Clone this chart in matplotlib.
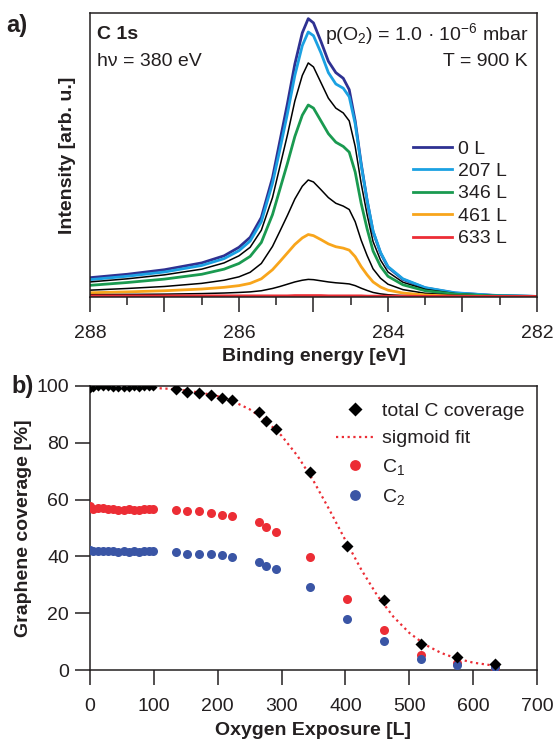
import matplotlib.pyplot as plt
from matplotlib.ticker import MultipleLocator, FuncFormatter

plt.rcParams['font.family'] = ['Liberation Sans', 'DejaVu Sans']
plt.rcParams['mathtext.fontset'] = 'custom'
plt.rcParams['mathtext.rm'] = 'Liberation Sans'
plt.rcParams['mathtext.it'] = 'Liberation Sans:italic'
plt.rcParams['font.size'] = 14
plt.rcParams['text.color'] = '#231f20'
plt.rcParams['axes.labelcolor'] = '#231f20'
plt.rcParams['xtick.color'] = '#231f20'
plt.rcParams['ytick.color'] = '#231f20'

# ---- panel a: C 1s spectra ----
energy = [288.0, 287.5, 287.0, 286.5, 286.2, 286.0, 285.85, 285.7, 285.55, 285.45,
          285.35, 285.25, 285.15, 285.07, 285.0, 284.9, 284.8, 284.7, 284.6, 284.52,
          284.44, 284.36, 284.28, 284.2, 284.1, 284.0, 283.8, 283.5, 283.1, 282.6, 282.0]

spec_0L = [0.068, 0.080, 0.096, 0.120, 0.145, 0.175, 0.21, 0.28, 0.42, 0.55,
           0.68, 0.82, 0.93, 0.98, 0.965, 0.90, 0.83, 0.79, 0.77, 0.73,
           0.62, 0.47, 0.34, 0.23, 0.155, 0.105, 0.062, 0.032, 0.014, 0.006, 0.002]
spec_207L = [0.061, 0.073, 0.088, 0.111, 0.135, 0.163, 0.197, 0.265, 0.40, 0.52,
             0.645, 0.78, 0.885, 0.933, 0.92, 0.86, 0.79, 0.75, 0.735, 0.705,
             0.61, 0.465, 0.34, 0.232, 0.157, 0.107, 0.064, 0.033, 0.015, 0.006, 0.002]
spec_k1 = [0.053, 0.064, 0.078, 0.098, 0.120, 0.145, 0.175, 0.235, 0.35, 0.46,
           0.57, 0.69, 0.78, 0.824, 0.81, 0.755, 0.70, 0.665, 0.648, 0.62,
           0.53, 0.40, 0.29, 0.195, 0.13, 0.088, 0.052, 0.027, 0.012, 0.005, 0.002]
spec_346L = [0.041, 0.051, 0.063, 0.080, 0.098, 0.118, 0.143, 0.192, 0.29, 0.38,
             0.47, 0.565, 0.64, 0.676, 0.665, 0.62, 0.575, 0.545, 0.53, 0.51,
             0.44, 0.33, 0.24, 0.162, 0.108, 0.073, 0.043, 0.022, 0.010, 0.004, 0.002]
spec_k2 = [0.024, 0.030, 0.037, 0.048, 0.059, 0.071, 0.087, 0.118, 0.178, 0.232,
           0.287, 0.345, 0.39, 0.412, 0.405, 0.378, 0.35, 0.33, 0.32, 0.308,
           0.265, 0.20, 0.146, 0.099, 0.066, 0.045, 0.026, 0.013, 0.006, 0.003, 0.001]
spec_461L = [0.015, 0.018, 0.022, 0.028, 0.034, 0.040, 0.048, 0.064, 0.096, 0.125,
             0.155, 0.185, 0.208, 0.22, 0.216, 0.202, 0.187, 0.177, 0.172, 0.165,
             0.142, 0.107, 0.078, 0.053, 0.035, 0.024, 0.014, 0.007, 0.003, 0.002, 0.001]
spec_k3 = [0.008, 0.009, 0.010, 0.012, 0.014, 0.016, 0.018, 0.022, 0.030, 0.037,
           0.045, 0.053, 0.059, 0.062, 0.061, 0.057, 0.053, 0.050, 0.048, 0.046,
           0.040, 0.031, 0.023, 0.016, 0.011, 0.008, 0.005, 0.003, 0.002, 0.001, 0.001]
spec_633L = [0.004, 0.004, 0.004, 0.004, 0.004, 0.004, 0.004, 0.004, 0.004, 0.004,
             0.004, 0.005, 0.005, 0.005, 0.005, 0.005, 0.004, 0.004, 0.004, 0.004,
             0.004, 0.004, 0.003, 0.003, 0.003, 0.003, 0.003, 0.002, 0.002, 0.002, 0.002]

c_navy = '#2e3192'
c_lblue = '#1ba1e2'
c_green = '#1a9a50'
c_orange = '#f8a51b'
c_red = '#ec2d35'
c_blue = '#3a55a5'

# ---- panel b: coverage vs exposure ----
exposure = [0, 4, 12, 20, 28, 36, 44, 53, 61, 69, 77, 85, 93, 98,
            134, 152, 171, 190, 206, 223, 264, 275, 291, 345, 402, 460, 518, 575, 634]
total_c = [99.0, 99.3, 99.6, 99.8, 99.5, 99.4, 99.3, 99.2, 99.4, 99.5, 99.4, 99.6, 99.7, 99.6,
           99.1, 97.9, 97.7, 97.0, 95.8, 95.0, 91.0, 87.8, 84.7, 69.8, 43.7, 24.6, 9.2, 4.5, 2.1]
c1 = [57.9, 56.8, 56.9, 57.1, 56.8, 56.6, 56.5, 56.5, 56.6, 56.5, 56.5, 56.6, 56.6, 56.6,
      56.3, 55.9, 55.9, 55.3, 54.5, 54.3, 52.0, 50.2, 48.5, 39.9, 25.1, 14.1, 5.3, 2.6, 0.8]
c2 = [42.2, 42.0, 41.9, 42.0, 41.9, 41.8, 41.7, 41.8, 41.7, 41.8, 41.7, 41.9, 42.0, 42.0,
      41.6, 41.0, 41.0, 40.8, 40.4, 39.9, 38.1, 36.7, 35.6, 29.1, 18.1, 10.2, 3.8, 1.8, 1.2]

fit_x = [100, 125, 150, 175, 200, 225, 250, 275, 300, 325, 350, 375, 400,
         425, 450, 475, 500, 525, 550, 575, 600, 634]
fit_y = [99.3, 99.0, 98.4, 97.6, 96.4, 94.5, 91.8, 87.9, 82.5, 75.4, 66.6, 56.4, 45.7,
         35.3, 26.2, 18.8, 13.1, 8.9, 6.0, 4.0, 2.6, 1.5]

n_dense = 14  # first, closely spaced measurements drawn with smaller diamonds

fig = plt.figure(figsize=(5.53, 7.41), dpi=100)
ax1 = fig.add_axes([0.1627, 0.5992, 0.8083, 0.3833])
ax2 = fig.add_axes([0.1627, 0.0958, 0.8083, 0.3833])

for ax in (ax1, ax2):
    for s in ax.spines.values():
        s.set_linewidth(1.1)
        s.set_color('#231f20')

# spectra
ax1.plot(energy, spec_0L, color=c_navy, lw=2.0, label='0 L')
ax1.plot(energy, spec_207L, color=c_lblue, lw=2.0, label='207 L')
ax1.plot(energy, spec_k1, color='black', lw=1.1)
ax1.plot(energy, spec_346L, color=c_green, lw=2.0, label='346 L')
ax1.plot(energy, spec_k2, color='black', lw=1.1)
ax1.plot(energy, spec_461L, color=c_orange, lw=2.0, label='461 L')
ax1.plot(energy, spec_k3, color='black', lw=1.1)
ax1.plot(energy, spec_633L, color=c_red, lw=2.0, label='633 L')

ax1.set_xlim(288, 282)
ax1.set_ylim(0, 1)
ax1.set_yticks([])
ax1.xaxis.set_major_locator(MultipleLocator(1))
ax1.xaxis.set_minor_locator(MultipleLocator(0.5))
ax1.xaxis.set_major_formatter(FuncFormatter(lambda v, p: '%d' % round(v) if round(v) % 2 == 0 else ''))
ax1.tick_params(axis='x', which='major', direction='out', length=11, width=1.1, pad=9, labelsize=14)
ax1.tick_params(axis='x', which='minor', direction='out', length=5.5, width=1.1)
ax1.set_xlabel('Binding energy [eV]', fontweight='bold', fontsize=14)
ax1.set_ylabel('Intensity [arb. u.]', fontweight='bold', fontsize=14)
ax1.xaxis.set_label_coords(0.5, -0.178)
ax1.yaxis.set_label_coords(-0.031, 0.5)

ax1.text(0.016, 0.925, 'C 1s', transform=ax1.transAxes, fontweight='bold', fontsize=14, va='center')
ax1.text(0.016, 0.83, 'h\u03bd = 380 eV', transform=ax1.transAxes, fontsize=14, va='center')
ax1.text(0.98, 0.925, 'p(O$_2$) = 1.0 \u00b7 10$^{-6}$ mbar', transform=ax1.transAxes,
         fontsize=14, va='center', ha='right')
ax1.text(0.98, 0.83, 'T = 900 K', transform=ax1.transAxes, fontsize=14, va='center', ha='right')

ax1.legend(loc='upper left', bbox_to_anchor=(0.722, 0.553), frameon=False, fontsize=14,
           handlelength=2.0, handletextpad=0.35, labelspacing=0.25, borderpad=0, borderaxespad=0)

fig.text(0.012, 0.966, 'a)', fontweight='bold', fontsize=17, va='center')

# coverage
ax2.plot(fit_x, fit_y, linestyle=(0, (1, 1.6)), color=c_red, lw=1.6, label='sigmoid fit', zorder=2)
ax2.plot(exposure, c1, 'o', color=c_red, ms=6.5, mec='none', label='C$_1$', zorder=3)
ax2.plot(exposure, c2, 'o', color=c_blue, ms=6.5, mec='none', label='C$_2$', zorder=3)
ax2.plot(exposure[:n_dense], total_c[:n_dense], 'D', color='black', ms=4.2, mec='none', zorder=4)
ax2.plot(exposure[n_dense:], total_c[n_dense:], 'D', color='black', ms=6.2, mec='none',
         label='total C coverage', zorder=4)

ax2.set_xlim(0, 700)
ax2.set_ylim(0, 100)
ax2.xaxis.set_major_locator(MultipleLocator(100))
ax2.yaxis.set_major_locator(MultipleLocator(20))
ax2.tick_params(axis='both', which='major', direction='out', length=11, width=1.1, labelsize=14)
ax2.tick_params(axis='x', pad=9)
ax2.tick_params(axis='y', pad=4)
ax2.set_xlabel('Oxygen Exposure [L]', fontweight='bold', fontsize=14)
ax2.set_ylabel('Graphene coverage [%]', fontweight='bold', fontsize=14)
ax2.xaxis.set_label_coords(0.5, -0.183)
ax2.yaxis.set_label_coords(-0.13, 0.5)

h, l = ax2.get_legend_handles_labels()
order = [3, 0, 1, 2]
ax2.legend([h[i] for i in order], [l[i] for i in order], loc='upper left',
           bbox_to_anchor=(0.55, 0.942), frameon=False, fontsize=14, handlelength=2.0,
           handletextpad=0.35, labelspacing=0.5, borderpad=0, borderaxespad=0, markerscale=1.2)

fig.text(0.02, 0.479, 'b)', fontweight='bold', fontsize=17, va='center')

fig.savefig('out.png', dpi=100)
